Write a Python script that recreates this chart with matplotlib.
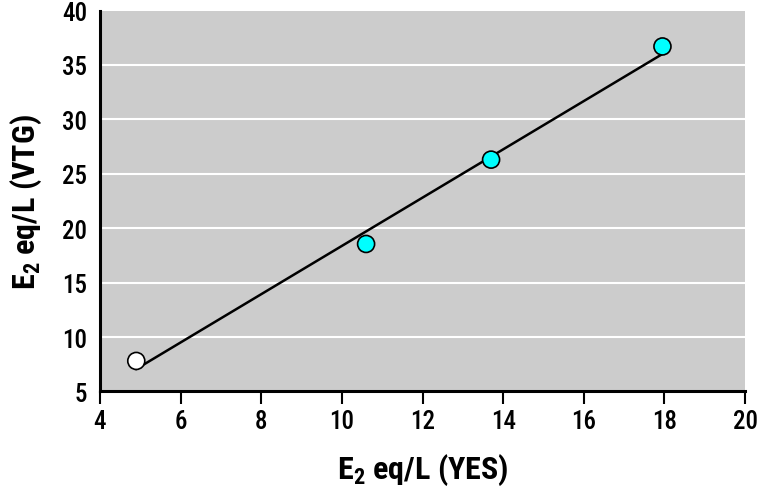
import matplotlib
matplotlib.use("Agg")
import matplotlib.pyplot as plt
import numpy as np

# data
yes_vals = [4.9, 10.6, 13.7, 17.95]
vtg_vals = [7.8, 18.55, 26.3, 36.7]
face_colors = ["white", "#00ffff", "#00ffff", "#00ffff"]

x_ticks = [4, 6, 8, 10, 12, 14, 16, 18, 20]
y_ticks = [5, 10, 15, 20, 25, 30, 35, 40]

FONT = ["Roboto Condensed", "DejaVu Sans"]
plt.rcParams["font.family"] = FONT
plt.rcParams["mathtext.fontset"] = "custom"
plt.rcParams["mathtext.bf"] = "Roboto Condensed:bold"
plt.rcParams["mathtext.rm"] = "Roboto Condensed"

fig = plt.figure(figsize=(7.65, 5.02), dpi=100)
ax = fig.add_axes([0.1307, 0.2183, 0.8433, 0.7587])
ax.set_facecolor("#cccccc")

ax.set_xlim(4, 20)
ax.set_ylim(5, 40)
ax.set_xticks(x_ticks)
ax.set_yticks(y_ticks)

# white grid at y ticks
for yv in y_ticks[1:-1]:
    ax.axhline(yv, color="white", lw=1.5, zorder=1)

# regression line
slope, icpt = np.polyfit(yes_vals, vtg_vals, 1)
xs = np.array([min(yes_vals), max(yes_vals)])
ax.plot(xs, slope * xs + icpt, color="black", lw=1.8, zorder=2)

ax.scatter(yes_vals, vtg_vals, s=150, c=face_colors, edgecolors="black",
           linewidths=1.2, zorder=3)

for s in ["top", "right"]:
    ax.spines[s].set_visible(False)
for s in ["left", "bottom"]:
    ax.spines[s].set_linewidth(2.2)

ax.tick_params(axis="x", length=9, width=1.5, labelsize=18, pad=4)
ax.tick_params(axis="y", length=0, labelsize=18, pad=9)
for lbl in ax.get_xticklabels() + ax.get_yticklabels():
    lbl.set_fontweight("medium")

ax.set_xlabel(r"$\mathbf{E_2}$ eq/L (YES)", fontsize=23, fontweight="bold",
              labelpad=13)
ax.set_ylabel(r"$\mathbf{E_2}$ eq/L (VTG)", fontsize=23, fontweight="bold",
              labelpad=13)

fig.savefig("out.png", dpi=100)
